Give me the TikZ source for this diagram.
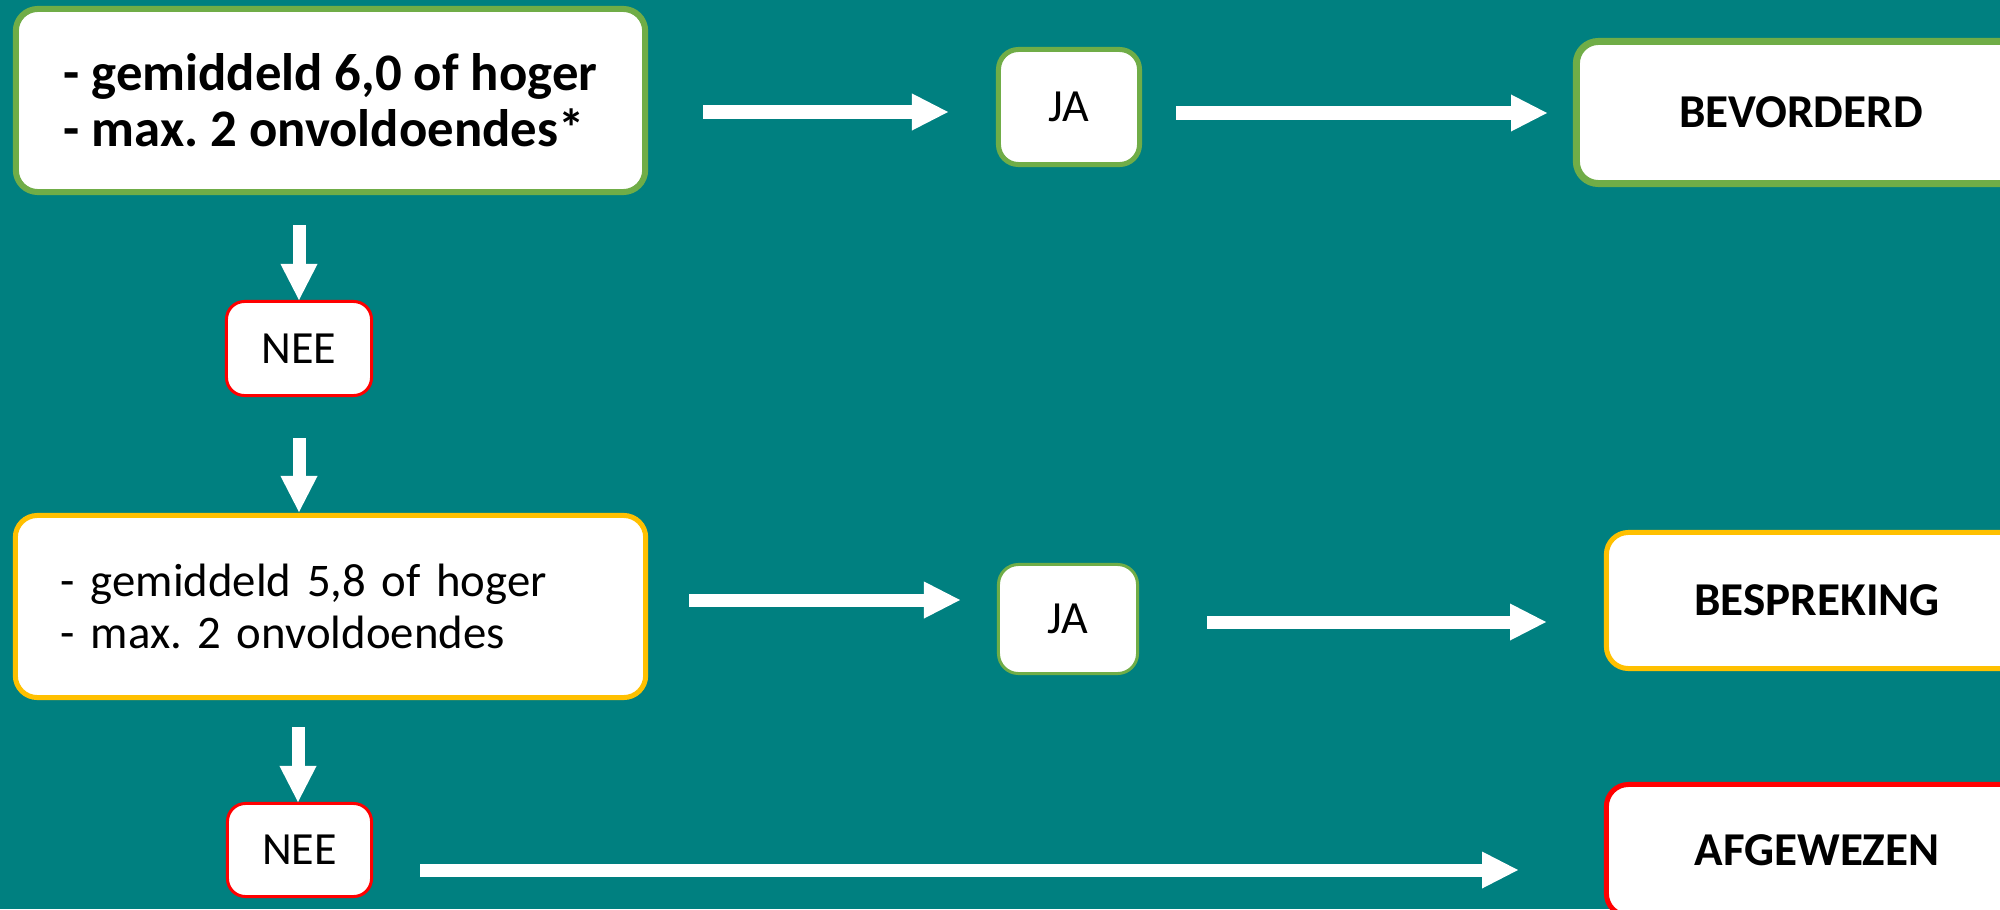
\documentclass[tikz,border=0pt]{standalone}
\usepackage{fontspec}
\setmainfont{Carlito}
\usetikzlibrary{arrows.meta}
\definecolor{bg}{RGB}{0,128,128}
\definecolor{gborder}{RGB}{112,173,71}
\definecolor{yborder}{RGB}{255,192,0}
\definecolor{rborder}{RGB}{255,0,0}
\frenchspacing
\begin{document}
\begin{tikzpicture}[x=0.01cm,y=-0.01cm,
  box/.style={draw, fill=white, rounded corners=0.22cm, inner sep=0pt, text=black},
  small/.style={font=\fontsize{13.1}{15}\selectfont},
  label/.style={font=\fontsize{13.4}{16}\selectfont\bfseries},
  arr/.style={draw=white, line width=0.13cm, -{Triangle[length=0.36cm,width=0.37cm,line width=0pt]}}]
\useasboundingbox (0,0) rectangle (2000,909);
\clip (0,0) rectangle (2000,909);
\fill[bg] (0,0) rectangle (2000,909);

\node[box, draw=gborder, line width=0.06cm, minimum width=6.29cm, minimum height=1.83cm, align=left,
  font=\fontsize{15}{16}\selectfont\bfseries] (c1) at (330.5,100.5) {- gemiddeld 6,0 of hoger\\- max. 2 onvoldoendes*};
\node[box, draw=gborder, line width=0.05cm, minimum width=1.41cm, minimum height=1.15cm, rounded corners=0.2cm, small] (ja1) at (1069,107) {JA};
\node[box, draw=gborder, line width=0.07cm, minimum width=4.49cm, minimum height=1.42cm, label] (bev) at (1801,112.5) {BEVORDERD};
\node[box, draw=rborder, line width=0.03cm, minimum width=1.45cm, minimum height=0.94cm, rounded corners=0.18cm, small] (nee1) at (299,348.5) {NEE};
\node[box, draw=yborder, line width=0.05cm, minimum width=6.30cm, minimum height=1.82cm, text width=5.39cm, inner xsep=0.455cm, align=left,
  font=\fontsize{13.3}{14.8}\selectfont] (c2) at (330.5,606.5) {- gemiddeld 5,8 of hoger\\- max. 2 onvoldoendes};
\node[box, draw=gborder, line width=0.03cm, minimum width=1.39cm, minimum height=1.09cm, rounded corners=0.2cm, small] (ja2) at (1068,619) {JA};
\node[box, draw=yborder, line width=0.05cm, minimum width=4.21cm, minimum height=1.36cm, label] (besp) at (1817,600.5) {BESPREKING};
\node[box, draw=rborder, line width=0.05cm, minimum width=4.21cm, minimum height=1.31cm, label] (afg) at (1817,850) {AFGEWEZEN};
\node[box, draw=rborder, line width=0.03cm, minimum width=1.44cm, minimum height=0.93cm, rounded corners=0.18cm, small] (nee2) at (299.5,850) {NEE};

\coordinate (a1s) at (703,112);  \coordinate (a1e) at (948,112);
\coordinate (a2s) at (1176,113); \coordinate (a2e) at (1547,113);
\coordinate (d1s) at (299,225);  \coordinate (d1e) at (299,300);
\coordinate (d2s) at (299,438);  \coordinate (d2e) at (299,512);
\coordinate (a3s) at (689,600);  \coordinate (a3e) at (960,600);
\coordinate (a4s) at (1207,622); \coordinate (a4e) at (1546,622);
\coordinate (d3s) at (298,727);  \coordinate (d3e) at (298,802);
\coordinate (a5s) at (420,870);  \coordinate (a5e) at (1518,870);

\draw[arr] (a1s) -- (a1e);
\draw[arr] (a2s) -- (a2e);
\draw[arr] (d1s) -- (d1e);
\draw[arr] (d2s) -- (d2e);
\draw[arr] (a3s) -- (a3e);
\draw[arr] (a4s) -- (a4e);
\draw[arr] (d3s) -- (d3e);
\draw[arr] (a5s) -- (a5e);
\end{tikzpicture}
\end{document}
